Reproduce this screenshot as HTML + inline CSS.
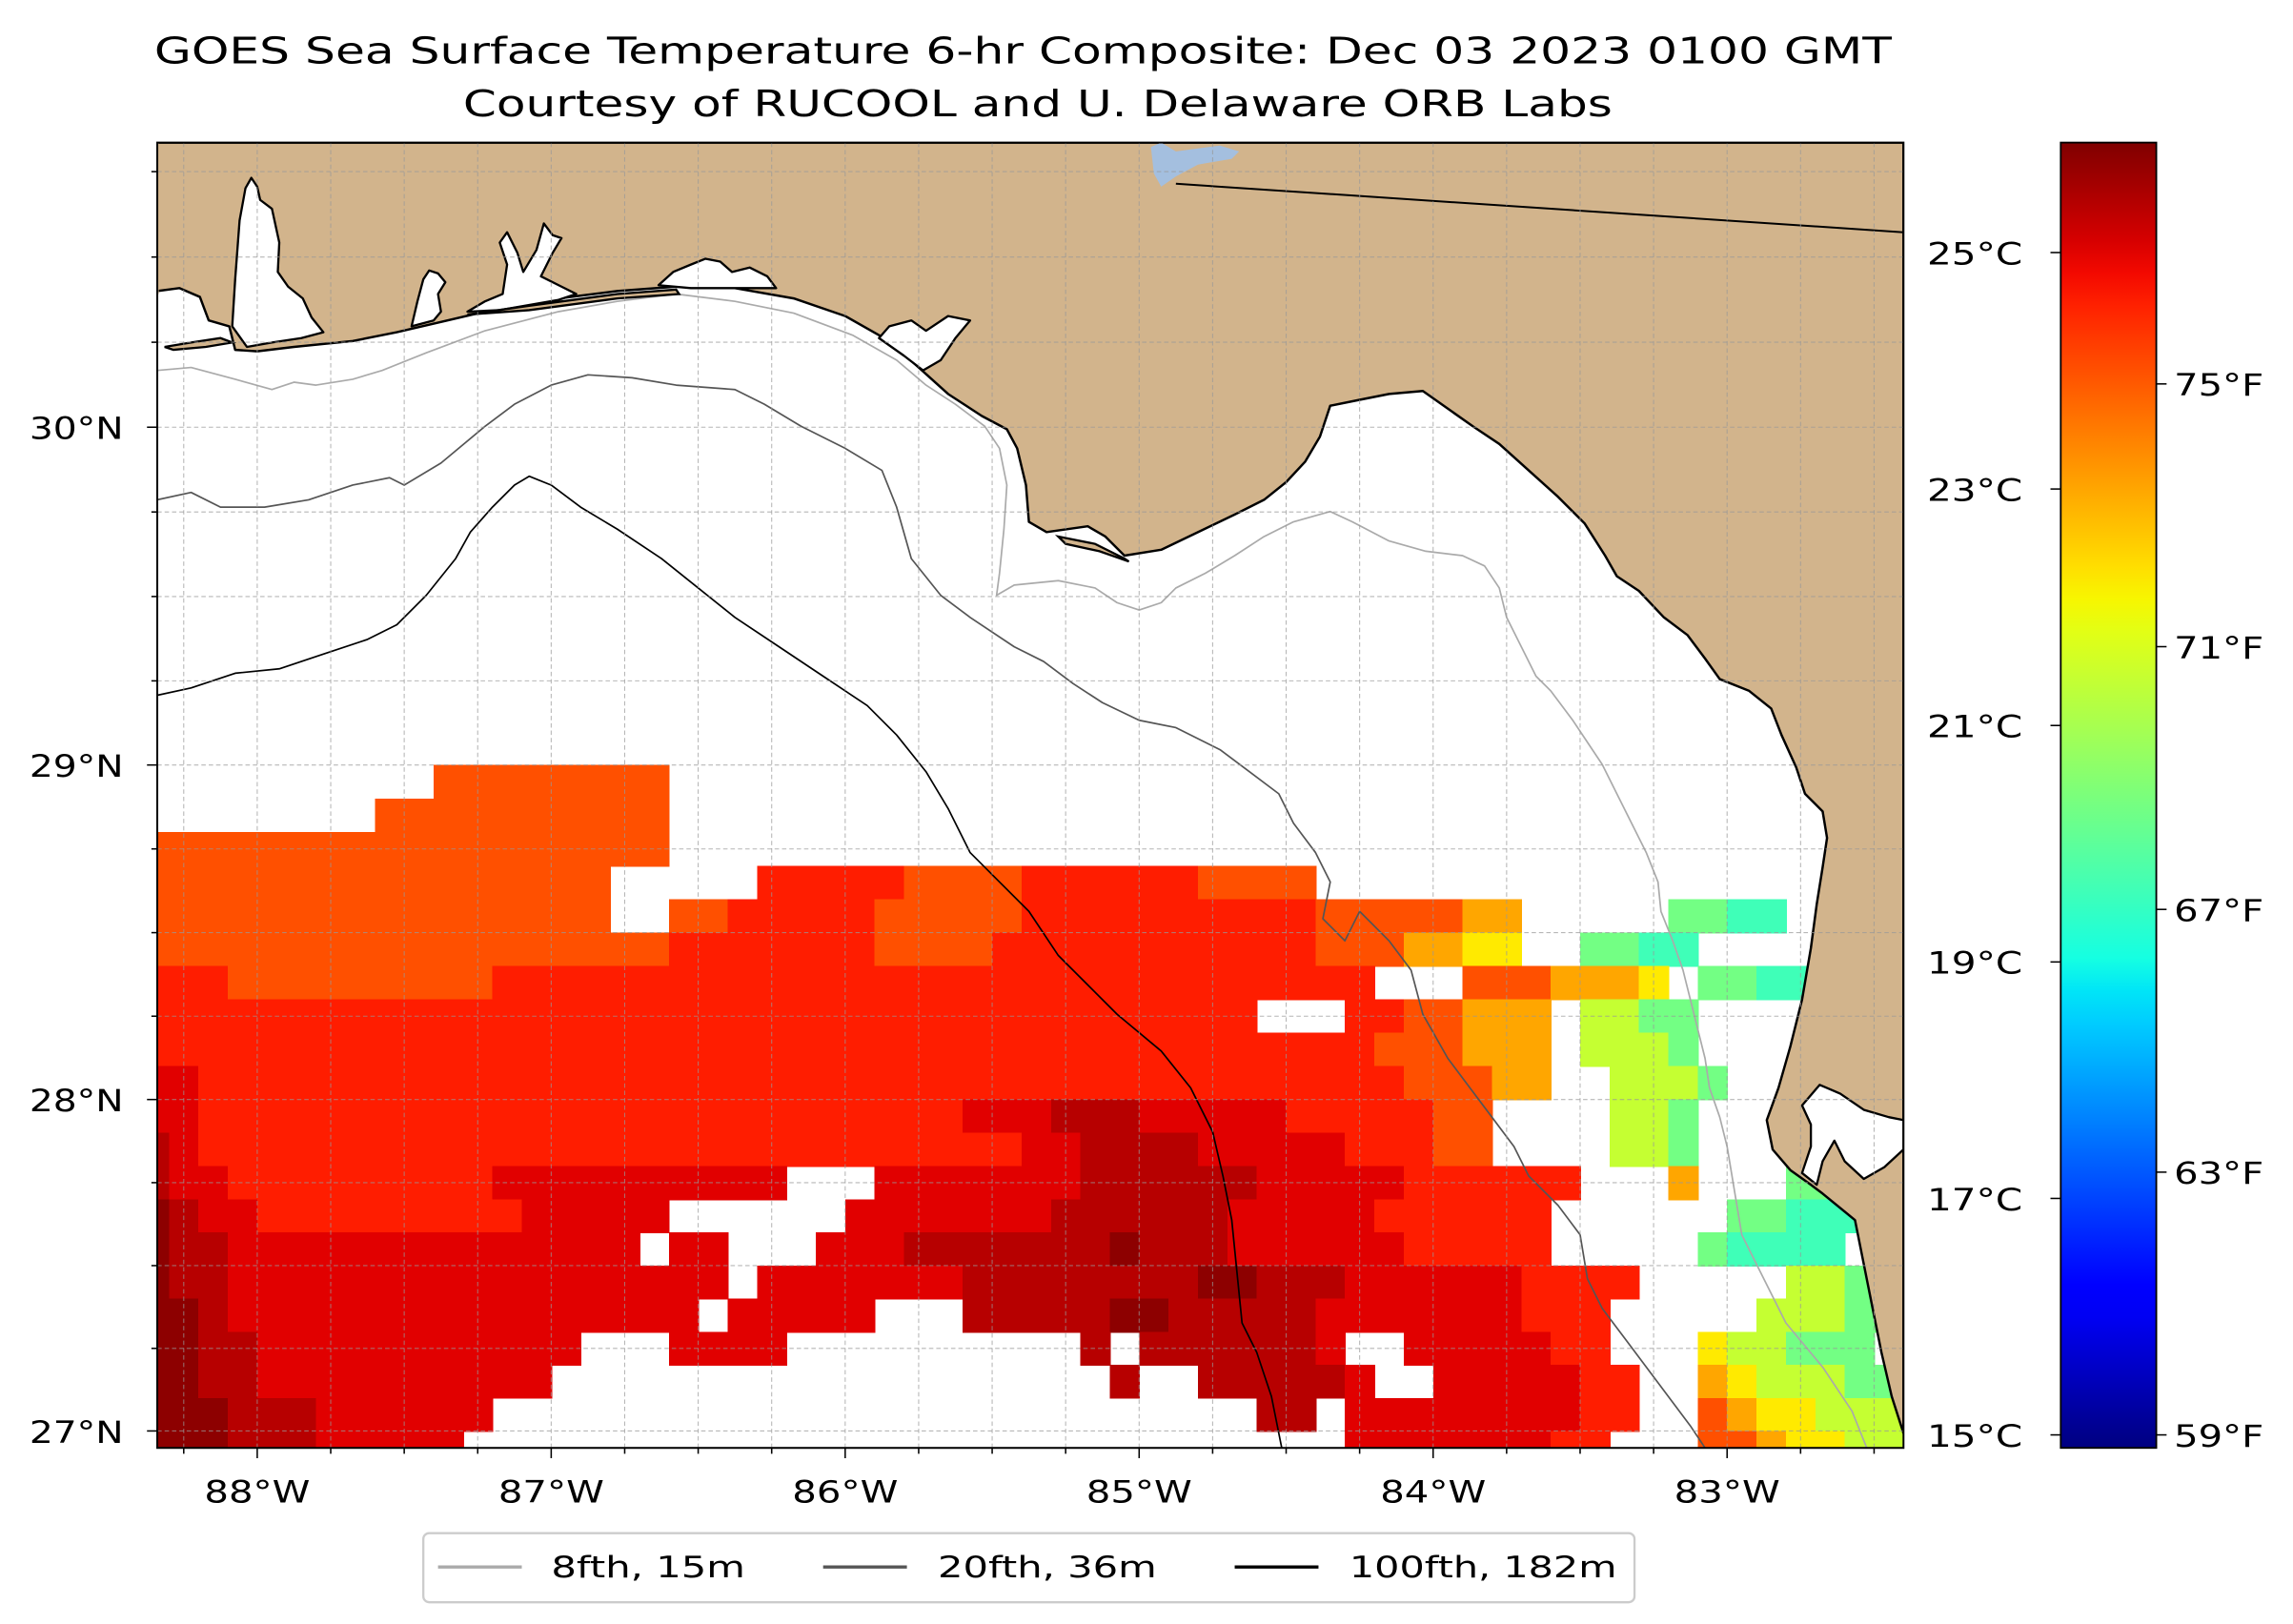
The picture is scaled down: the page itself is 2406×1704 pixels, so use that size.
<!DOCTYPE html>
<html><head><meta charset="utf-8"><title>GOES SST Composite</title>
<style>html,body{margin:0;padding:0;background:#fff;}svg{display:block;}text{font-family:"DejaVu Sans","Liberation Sans",sans-serif;fill:#000;}</style>
</head><body>
<svg id="fig" xmlns="http://www.w3.org/2000/svg" width="2406" height="1704" viewBox="0 0 1560 1104.8" preserveAspectRatio="none">
<defs><clipPath id="mapclip"><rect x="107" y="97" width="1188" height="888"/></clipPath>
<linearGradient id="jetgrad" x1="0" y1="1" x2="0" y2="0"></linearGradient></defs>
<text x="696" y="43" text-anchor="middle" font-size="25" textLength="1182" lengthAdjust="spacingAndGlyphs">GOES Sea Surface Temperature 6-hr Composite: Dec 03 2023 0100 GMT</text>
<text x="706" y="79" text-anchor="middle" font-size="25" textLength="782" lengthAdjust="spacingAndGlyphs">Courtesy of RUCOOL and U. Delaware ORB Labs</text>
<g id="map" clip-path="url(#mapclip)">
<rect x="107" y="97" width="1188" height="888" fill="#fff"/>
<g id="sst"></g>
<g id="contours"></g>
<g id="land"></g>
<g id="grid"></g>
</g>
<rect x="107" y="97" width="1188" height="888" fill="none" stroke="#000" stroke-width="1.3"/>
<g id="axes"></g>
<g id="cbar"></g>
<g id="legend">
<rect x="288" y="1043" width="824" height="47" rx="4" fill="#fff" stroke="#ccc" stroke-width="1.5"/>
<line x1="298" y1="1066" x2="355" y2="1066" stroke="#aaa" stroke-width="2.2"/>
<text x="375" y="1073" font-size="20" textLength="132" lengthAdjust="spacingAndGlyphs">8fth, 15m</text>
<line x1="560" y1="1066" x2="617" y2="1066" stroke="#555" stroke-width="2.2"/>
<text x="638" y="1073" font-size="20" textLength="149" lengthAdjust="spacingAndGlyphs">20fth, 36m</text>
<line x1="840" y1="1066" x2="897" y2="1066" stroke="#000" stroke-width="2.2"/>
<text x="918" y="1073" font-size="20" textLength="182" lengthAdjust="spacingAndGlyphs">100fth, 182m</text>
</g>
</svg>
<script>
// ---- chart data ----
const sstLevels = [19.6, 20.3, 21.4, 22.2, 23.0, 24.0, 24.6, 25.0, 25.4, 25.8];
const gridLon0 = -88.4;
const gridLat0 = 29.0;
const gridStep = 0.1;
const sstRows = [
"..........55555555",
"........5555555555",
"555555555555555555",
"5555555555555555.....6666655556666665555",
"5555555555555555..55666665555566666666665555544.....1100",
"55555555555555555566666665555666666666665554433..1100",
"666555555555666666666666666666666666666666...5554443.1100",
"66666666666666666666666666666666666666...6655444.2211",
"666666666666666666666666666666666666666666555444.2221",
"776666666666666666666666666666666666666666655544..2221",
"7766666666666666666666666666777888777776666655....221",
"8766666666666666666666666666667788887777766655....221...000",
"8776666666667777777777...777777788888877777666666...4...11000",
"987766666666677777......777777788888877777666666......11000",
"98877777777777777.77...7778888888988877777766666.....10000",
"98877777777777777777.777777788888888998887777776666.....2211100",
"9987777777777777777.77777...8888899888887777777666.....2221111",
"998877777777777...7777..........8.8888887..7777766...322111",
"99887777777777...................8..888887..7777766..4322211",
"999888777777..........................88.7777777766..5433222",
"99988877777..............................777777766...5543322"
];
const celsiusTicks = [15, 17, 19, 21, 23, 25];
const fahrenheitTicks = [59, 63, 67, 71, 75];
const cbarMin = 14.89, cbarMax = 25.93;
const lonTicks = [-88, -87, -86, -85, -84, -83];
const latTicks = [27, 28, 29, 30];

// basemap geometry (display px)
const coastPts = [[107,97],[107,198],[122,196],[136,202],[142,218],[156,222],[160,238],[175,239],[200,236],[240,232],[270,226],[300,219],[330,212],[380,203],[420,198],[460,195],[500,196],[540,203],[575,215],[605,232],[625,250],[645,268],[668,283],[685,292],[692,305],[698,330],[700,355],[712,362],[740,358],[752,365],[765,378],[790,374],[815,362],[840,350],[860,340],[875,328],[888,314],[898,297],[905,276],[925,272],[945,268],[968,266],[985,278],[1002,290],[1020,302],[1040,320],[1060,338],[1078,356],[1092,378],[1100,392],[1115,402],[1132,420],[1148,432],[1160,448],[1170,462],[1190,470],[1205,482],[1212,500],[1222,522],[1228,540],[1240,552],[1243,570],[1240,590],[1236,615],[1232,645],[1226,680],[1218,712],[1210,740],[1202,762],[1206,782],[1218,796],[1232,806],[1240,812],[1262,830],[1268,860],[1274,890],[1280,920],[1287,950],[1295,975],[1295,97]];
const waterInlets = [
[[158,222],[160,190],[163,150],[167,128],[171,121],[175,127],[177,136],[185,142],[190,165],[189,185],[196,195],[206,203],[212,216],[220,226],[205,230],[185,233],[168,236]],
[[280,222],[284,205],[288,190],[292,184],[298,186],[303,192],[298,200],[300,212],[295,218]],
[[318,212],[330,205],[342,200],[345,180],[340,165],[345,158],[352,172],[356,185],[365,170],[370,152],[376,160],[382,162],[376,172],[368,188],[382,195],[392,200],[380,204],[340,211]],
[[448,194],[458,185],[470,180],[480,176],[490,178],[498,185],[510,182],[522,188],[528,196],[500,196],[470,196]],
[[598,230],[605,222],[620,218],[630,225],[645,215],[660,218],[650,230],[640,245],[628,252],[615,242]],
[[1226,752],[1238,738],[1252,744],[1268,755],[1285,760],[1295,762],[1295,782],[1282,794],[1268,802],[1255,790],[1248,776],[1240,790],[1236,806],[1226,798],[1232,780],[1232,765]]
];
const islands = [[[112,236],[130,233],[150,230],[158,233],[140,236],[118,238]],[[318,214],[360,208],[420,200],[460,197],[462,200],[420,203],[360,211]],[[720,365],[745,370],[765,380],[768,382],[748,375],[725,370]]];
const lakePts = [[783,100],[790,97],[800,103],[815,101],[830,99],[843,103],[838,108],[815,112],[800,120],[790,127],[785,118]];
const borderPts = [[800,125],[1295,158]];
const c8 = [[107,252],[130,250],[160,258],[185,265],[200,260],[215,262],[240,258],[260,252],[290,240],[330,225],[380,212],[420,205],[460,200],[500,205],[540,213],[580,228],[610,245],[630,262],[650,275],[670,290],[680,305],[685,330],[683,360],[680,390],[678,405],[690,398],[720,395],[745,400],[760,410],[775,415],[790,410],[800,400],[820,390],[840,378],[860,365],[880,355],[905,348],[920,355],[945,368],[970,375],[995,378],[1010,385],[1020,400],[1025,420],[1035,440],[1045,460],[1055,470],[1070,490],[1080,505],[1090,520],[1100,540],[1110,560],[1120,580],[1128,600],[1130,620],[1138,640],[1145,660],[1150,680],[1155,700],[1160,720],[1163,740],[1170,760],[1175,780],[1180,810],[1185,840],[1200,870],[1215,900],[1240,930],[1260,960],[1270,985]];
const c20 = [[107,340],[130,335],[150,345],[180,345],[210,340],[240,330],[265,325],[275,330],[300,315],[330,290],[350,275],[375,262],[400,255],[430,257],[460,262],[500,265],[520,275],[545,290],[575,305],[600,320],[610,345],[620,380],[640,405],[660,420],[690,440],[710,450],[730,465],[750,478],[775,490],[800,495],[830,510],[850,525],[870,540],[880,560],[895,580],[905,600],[900,625],[915,640],[925,620],[945,640],[960,660],[968,690],[985,720],[1000,740],[1015,760],[1030,780],[1040,800],[1060,820],[1075,840],[1080,870],[1090,890],[1105,910],[1120,930],[1135,950],[1150,970],[1160,985]];
const c100 = [[107,473],[130,468],[160,458],[190,455],[220,445],[250,435],[270,425],[290,405],[310,380],[320,362],[335,345],[350,330],[360,324],[375,330],[395,345],[420,360],[450,380],[475,400],[500,420],[530,440],[560,460],[590,480],[610,500],[630,525],[645,550],[660,580],[680,600],[700,620],[720,650],[740,670],[760,690],[790,715],[810,740],[825,770],[832,800],[838,830],[842,870],[845,900],[855,920],[865,950],[872,985]];

// ---- scales ----
const NS='http://www.w3.org/2000/svg';
function xs(lon){return 175+(lon+88)*200;}
function merc(lat){return Math.log(Math.tan(Math.PI/4+lat*Math.PI/360));}
function ys(lat){return 748-11459*(merc(lat)-merc(28));}
function cy(t){return 985-(t-cbarMin)/(cbarMax-cbarMin)*888;}
function cl(v){return Math.max(0,Math.min(1,v));}
function jet(t){t=cl(t);let r,g,b;
 r=t<0.35?0:t<0.66?(t-0.35)/0.31:t<0.89?1:1-(t-0.89)/0.11*0.5;
 g=t<0.125?0:t<0.375?(t-0.125)/0.25:t<0.64?1:t<0.91?1-(t-0.64)/0.27:0;
 b=t<0.11?0.5+t/0.11*0.5:t<0.34?1:t<0.65?1-(t-0.34)/0.31:0;
 return 'rgb('+Math.round(cl(r)*255)+','+Math.round(cl(g)*255)+','+Math.round(cl(b)*255)+')';}
function tcol(T){return jet((T-cbarMin)/(cbarMax-cbarMin));}
function mk(tag,attrs,parent){const e=document.createElementNS(NS,tag);for(const k in attrs)e.setAttribute(k,attrs[k]);parent.appendChild(e);return e;}
function pts(a){return a.map(p=>p[0]+','+p[1]).join(' ');}

// ---- heatmap cells ----
const sstG=document.getElementById('sst');
sstRows.forEach((row,j)=>{
 for(let i=0;i<row.length;i++){
  const c=row[i]; if(c<'0'||c>'9') continue;
  const x0=xs(gridLon0+gridStep*i), x1=xs(gridLon0+gridStep*(i+1));
  const y0=ys(gridLat0-gridStep*j), y1=ys(gridLat0-gridStep*(j+1));
  const r=mk('rect',{x:x0,y:y0,width:x1-x0+0.6,height:y1-y0+0.6,fill:tcol(sstLevels[+c]),'shape-rendering':'crispEdges'},sstG);
  
  
 }
});

// ---- contours ----
const cg=document.getElementById('contours');
[[c8,'#aaa','isobath-8fth'],[c20,'#555','isobath-20fth'],[c100,'#000','isobath-100fth']].forEach(s=>{
 const p=mk('polyline',{points:pts(s[0]),fill:'none',stroke:s[1],'stroke-width':1.1,'stroke-linejoin':'round'},cg);
 
 
});

// ---- land ----
const lg=document.getElementById('land');
const landP=mk('polygon',{points:pts(coastPts),fill:'#d2b48c',stroke:'#000','stroke-width':1.6,'stroke-linejoin':'round'},lg);


mk('line',{x1:107,y1:97,x2:107,y2:200,stroke:'#d2b48c','stroke-width':2},lg);
waterInlets.forEach(w=>{
 const p=mk('polygon',{points:pts(w),fill:'#fff',stroke:'#000','stroke-width':1.5,'stroke-linejoin':'round'},lg);
 
 
});
islands.forEach(w=>{
 const p=mk('polygon',{points:pts(w),fill:'#d2b48c',stroke:'#000','stroke-width':1.5},lg);
 
 
});
const lake=mk('polygon',{points:pts(lakePts),fill:'#a4bfdf',stroke:'none'},lg);


const bl=mk('polyline',{points:pts(borderPts),fill:'none',stroke:'#000','stroke-width':1.3},lg);



// ---- gridlines ----
const gg=document.getElementById('grid');
for(let lon=-88.25;lon<=-82.49;lon+=0.25){
 const l=mk('line',{x1:xs(lon),y1:97,x2:xs(lon),y2:985,stroke:'#999','stroke-opacity':0.7,'stroke-width':0.7,'stroke-dasharray':'3,2'},gg);
 
 
}
for(let lat=27;lat<=30.76;lat+=0.25){
 const l=mk('line',{x1:107,y1:ys(lat),x2:1295,y2:ys(lat),stroke:'#999','stroke-opacity':0.7,'stroke-width':0.7,'stroke-dasharray':'3,2'},gg);
 
 
}

// ---- axes ----
const ag=document.getElementById('axes');
for(let lon=-88.25;lon<=-82.49;lon+=0.25){
 const major=Math.abs(lon-Math.round(lon))<0.01;
 mk('line',{x1:xs(lon),y1:985,x2:xs(lon),y2:985+(major?7:4),stroke:'#000','stroke-width':1},ag);
}
for(let lat=27;lat<=30.76;lat+=0.25){
 const major=Math.abs(lat-Math.round(lat))<0.01;
 mk('line',{x1:107,y1:ys(lat),x2:107-(major?7:4),y2:ys(lat),stroke:'#000','stroke-width':1},ag);
}
lonTicks.forEach(lon=>{
 const t=mk('text',{x:xs(lon),y:1022,'text-anchor':'middle','font-size':21,textLength:72,lengthAdjust:'spacingAndGlyphs'},ag);
 t.textContent=Math.abs(lon)+'°W';
 
 
});
latTicks.forEach(lat=>{
 const t=mk('text',{x:84,y:ys(lat)+8,'text-anchor':'end','font-size':21,textLength:64,lengthAdjust:'spacingAndGlyphs'},ag);
 t.textContent=lat+'°N';
 
 
});

// ---- colorbar ----
const grad=document.getElementById('jetgrad');
for(let k=0;k<=40;k++){mk('stop',{offset:(k/40),'stop-color':jet(k/40)},grad);}
const cb=document.getElementById('cbar');
const cbr=mk('rect',{x:1402,y:97,width:65,height:888,fill:'url(#jetgrad)',stroke:'#000','stroke-width':1.2},cb);


celsiusTicks.forEach(c=>{
 mk('line',{x1:1402,y1:cy(c),x2:1395,y2:cy(c),stroke:'#000','stroke-width':1},cb);
 const t=mk('text',{x:1376,y:cy(c)+8,'text-anchor':'end','font-size':21,textLength:65,lengthAdjust:'spacingAndGlyphs'},cb);
 t.textContent=c+'°C';
 
 
});
fahrenheitTicks.forEach(f=>{
 const c=(f-32)*5/9;
 mk('line',{x1:1467,y1:cy(c),x2:1474,y2:cy(c),stroke:'#000','stroke-width':1},cb);
 const t=mk('text',{x:1479,y:cy(c)+8,'text-anchor':'start','font-size':21,textLength:61,lengthAdjust:'spacingAndGlyphs'},cb);
 t.textContent=f+'°F';
 
 
});
</script>
</body></html>
